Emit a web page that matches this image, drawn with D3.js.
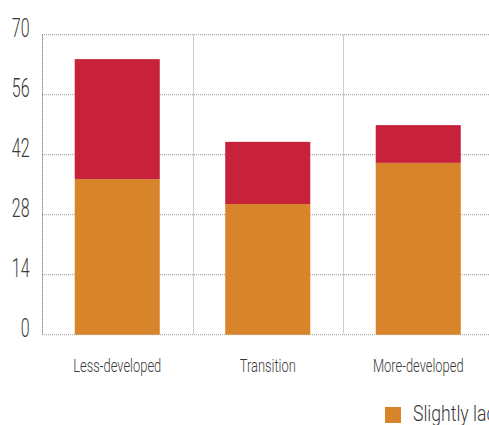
<!DOCTYPE html>
<html><head><meta charset="utf-8">
<script src="https://cdn.jsdelivr.net/npm/d3@7/dist/d3.min.js"></script>
<style>
html,body{margin:0;padding:0;background:#fff;overflow:hidden}
text{font-family:"Roboto","Liberation Sans",sans-serif;font-weight:300;fill:#3a3a3a}
</style></head><body>
<svg id="c" width="489" height="425"></svg>
<script>
const categories = ["Less-developed","Transition","More-developed"];
const seriesNames = ["Slightly lacking","Strongly lacking"];
const slightly = [36.3, 30.5, 40.1];
const strongly = [28.0, 14.5, 8.8];
const yTicks = [0,14,28,42,56,70];
const colors = ["#d8842a","#c8223a"];

const svg = d3.select("#c");
const x = d3.scaleBand().domain(categories).range([42,493.5]).paddingInner(0.435).paddingOuter(0.2175);
const xg = d3.scaleBand().domain(categories).range([42,493.5]).padding(0);
const y = d3.scaleLinear().domain([0,70]).range([334.7,34.7]);

const grid = svg.append("g");
grid.selectAll("line.h").data(yTicks).join("line")
  .attr("x1",42).attr("x2",495).attr("y1",d=>y(d)).attr("y2",d=>y(d))
  .attr("stroke","#9a9a9a").attr("stroke-width",1).attr("stroke-dasharray","1,1");
grid.selectAll("line.v").data(categories.slice(1).map(c=>xg(c)).concat([xg.range()[1]])).join("line")
  .attr("x1",d=>Math.round(d)+0.5).attr("x2",d=>Math.round(d)+0.5).attr("y1",y(70)).attr("y2",y(0))
  .attr("stroke","#9a9a9a").attr("stroke-width",1).attr("stroke-dasharray","1,1");
grid.append("line").attr("x1",42.5).attr("x2",42.5).attr("y1",y(70)).attr("y2",y(0))
  .attr("stroke","#555").attr("stroke-width",1).attr("stroke-dasharray","1,1");

const stacked = d3.stack().keys([0,1])(categories.map((c,i)=>({cat:c,0:slightly[i],1:strongly[i]})));
svg.append("g").selectAll("g").data(stacked).join("g").attr("fill",(d,i)=>colors[i])
  .selectAll("rect").data(d=>d).join("rect")
  .attr("x",d=>x(d.data.cat)).attr("width",x.bandwidth())
  .attr("y",d=>y(d[1])).attr("height",d=>y(d[0])-y(d[1]));

svg.append("g").selectAll("text").data(yTicks).join("text")
  .attr("transform",d=>`translate(29.5,${y(d)+2}) scale(0.64,1)`).attr("text-anchor","end")
  .style("font-size","25px").text(d=>d);

svg.append("g").selectAll("text").data(categories).join("text")
  .attr("transform",d=>`translate(${x(d)+x.bandwidth()/2},372) scale(0.68,1)`).attr("text-anchor","middle")
  .style("font-size","19px").text(d=>d);

const lg = svg.append("g");
lg.append("rect").attr("x",385).attr("y",407).attr("width",16).attr("height",16).attr("fill",colors[0]);
lg.append("text").attr("transform","translate(413,421) scale(0.8,1)").style("font-size","22px").text(seriesNames[0]);
</script></body></html>
